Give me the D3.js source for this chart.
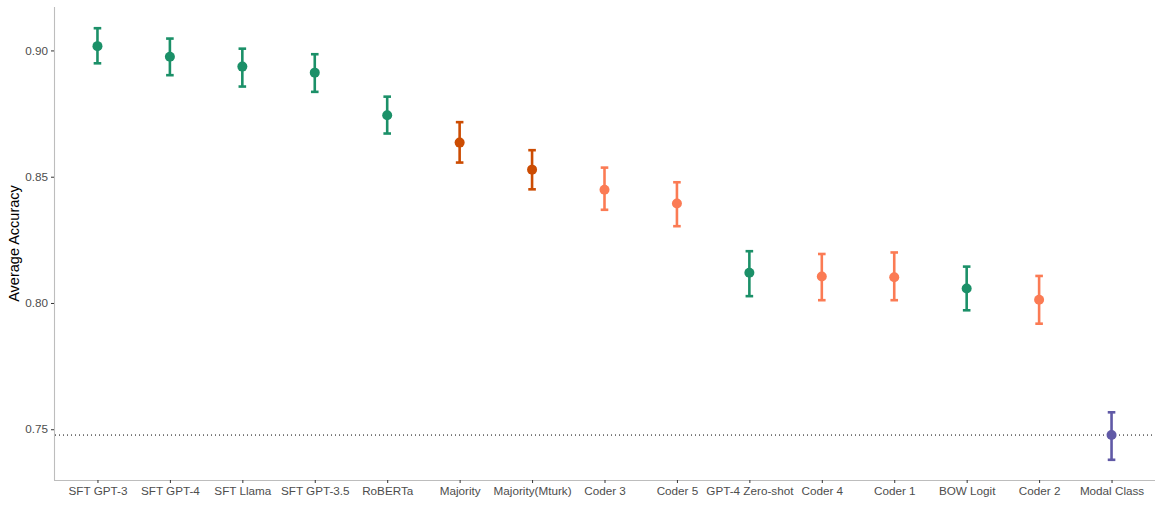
<!DOCTYPE html>
<html>
<head>
<meta charset="utf-8">
<script src="https://cdn.jsdelivr.net/npm/d3@7"></script>
<style>
  body { margin: 0; background: #fff; }
  text { font-family: "Liberation Sans", Arial, sans-serif; }
</style>
</head>
<body>
<script>
// models in plot order
var models = ["SFT GPT-3", "SFT GPT-4", "SFT Llama", "SFT GPT-3.5", "RoBERTa", "Majority",
  "Majority(Mturk)", "Coder 3", "Coder 5", "GPT-4 Zero-shot", "Coder 4", "Coder 1",
  "BOW Logit", "Coder 2", "Modal Class"];
var accuracy = [0.9017, 0.8975, 0.8936, 0.8912, 0.8743, 0.8635, 0.8528, 0.8448, 0.8394,
  0.8120, 0.8105, 0.8102, 0.8057, 0.8013, 0.7477];
var lower = [0.8949, 0.8902, 0.8857, 0.8836, 0.8671, 0.8556, 0.8450, 0.8369, 0.8304,
  0.8027, 0.8011, 0.8011, 0.7971, 0.7918, 0.7379];
var upper = [0.9088, 0.9047, 0.9007, 0.8985, 0.8817, 0.8716, 0.8605, 0.8536, 0.8478,
  0.8205, 0.8194, 0.8200, 0.8144, 0.8107, 0.7567];
var group = ["model", "model", "model", "model", "model", "majority", "majority", "coder", "coder",
  "model", "coder", "coder", "model", "coder", "baseline"];
var yTicks = [0.75, 0.80, 0.85, 0.90];
var baseline = 0.7477;

var W = 1163, H = 523;
// plot area edges (window.top is reserved, so p-prefixed)
var pLeft = 54, pRight = 1155, pTop = 7, pBottom = 480;

var colors = { model: "#1B9068", majority: "#CC4C02", coder: "#FB7B54", baseline: "#6059A6" };

var svg = d3.select("body").append("svg").attr("width", W).attr("height", H);

var x = d3.scalePoint().domain(models).range([pLeft, pRight]).padding(0.6);
var y = d3.scaleLinear().domain([0.7299, 0.9172]).range([pBottom, pTop]);

// axes
var yAxis = svg.append("g").attr("transform", "translate(" + pLeft + ",0)")
  .call(d3.axisLeft(y).tickValues(yTicks).tickFormat(d3.format(".2f")).tickSize(3).tickPadding(3));
var xAxis = svg.append("g").attr("transform", "translate(0," + pBottom + ")")
  .call(d3.axisBottom(x).tickSize(3).tickPadding(4));

[yAxis, xAxis].forEach(function(a) {
  a.select(".domain").attr("stroke", "#bdbdbd").attr("stroke-width", 1.1);
  a.selectAll(".tick line").attr("stroke", "#333");
  a.selectAll(".tick text").attr("fill", "#4d4d4d").style("font-size", "11.7px");
});
yAxis.select(".domain").attr("d", "M0.5," + pTop + "V" + pBottom);
xAxis.select(".domain").attr("d", "M" + pLeft + ",0.5H" + pRight);

svg.append("text")
  .attr("transform", "translate(19," + ((pTop + pBottom) / 2) + ") rotate(-90)")
  .attr("text-anchor", "middle")
  .style("font-size", "14.5px")
  .attr("fill", "#000")
  .text("Average Accuracy");

// modal class reference line
svg.append("line")
  .attr("x1", pLeft + 1).attr("x2", pRight)
  .attr("y1", y(baseline)).attr("y2", y(baseline))
  .attr("stroke", "#000").attr("stroke-width", 1)
  .attr("stroke-dasharray", "1,3");

var pts = models.map(function(m, i) {
  return { name: m, v: accuracy[i], lo: lower[i], hi: upper[i], g: group[i] };
});

var g = svg.append("g").selectAll("g").data(pts).enter().append("g");

g.append("line")
  .attr("x1", function(d) { return x(d.name); })
  .attr("x2", function(d) { return x(d.name); })
  .attr("y1", function(d) { return y(d.lo); })
  .attr("y2", function(d) { return y(d.hi); })
  .attr("stroke", function(d) { return colors[d.g]; })
  .attr("stroke-width", 2.6);

["lo", "hi"].forEach(function(k) {
  g.append("line")
    .attr("x1", function(d) { return x(d.name) - 3.8; })
    .attr("x2", function(d) { return x(d.name) + 3.8; })
    .attr("y1", function(d) { return y(d[k]); })
    .attr("y2", function(d) { return y(d[k]); })
    .attr("stroke", function(d) { return colors[d.g]; })
    .attr("stroke-width", 2.6);
});

g.append("circle")
  .attr("cx", function(d) { return x(d.name); })
  .attr("cy", function(d) { return y(d.v); })
  .attr("r", 5)
  .attr("fill", function(d) { return colors[d.g]; });
</script>
</body>
</html>
